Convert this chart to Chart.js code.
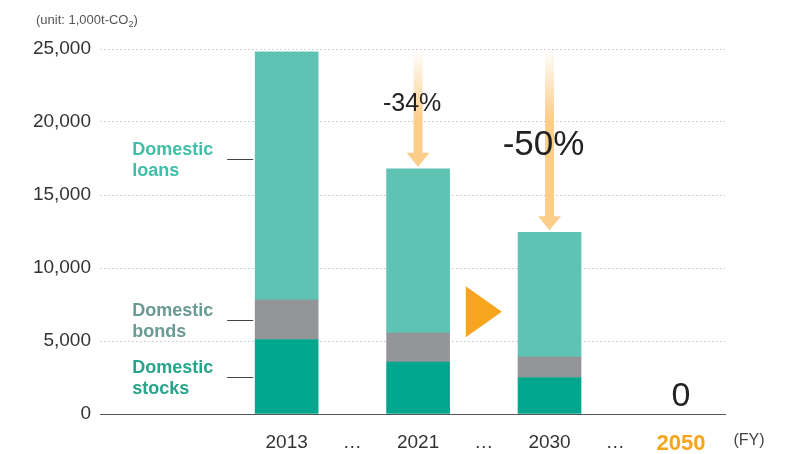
<!DOCTYPE html>
<html>
<head>
<meta charset="utf-8">
<script src="https://cdn.jsdelivr.net/npm/chart.js@4.4.1/dist/chart.umd.min.js"></script>
<style>
  html, body { margin: 0; padding: 0; background: #fff; }
</style>
</head>
<body>
<canvas id="emissionsChart" width="791" height="454"></canvas>
<script>
// x axis slots: bars sit on even slots, the "…" on odd ones
const xTickLabels = ['2013', '…', '2021', '…', '2030', '…', '2050'];
const barSlots = [0, 2, 4];

// financed emissions, 1,000t-CO2
const stocks = [5100, 3550, 2500];
const bonds = [2700, 2000, 1400];
const loans = [17000, 11250, 8550];

const seriesNames = ['Domestic\nstocks', 'Domestic\nbonds', 'Domestic\nloans'];
const seriesColours = ['#00a78e', '#939598', '#5ec3b3'];
const seriesTextColours = ['#26a58b', '#6a9a94', '#3fbfa7'];
const leaderValues = [2550, 6450, 17500];

// reduction arrows (bar index they point at)
const arrowBars = [1, 2];
const arrowLabels = ['-34%', '-50%'];
const arrowLabelValues = [21200, 18400];
const arrowLabelSizes = [25, 35];

const targetSlot = 6;
const targetLabel = '0';
const triangleSlot = 3;
const triangleValue = 7000;

const FONT = '"Liberation Sans", Arial, Helvetica, sans-serif';
const orange = '#f7a51d';

const toPoints = (values) => values.map((v, i) => ({ x: barSlots[i], y: v }));

const annotations = {
    id: 'annotations',
    afterDatasetsDraw(chart) {
        const { ctx, scales: { x, y } } = chart;
        ctx.save();

        // unit note top-left
        ctx.fillStyle = '#555';
        ctx.textBaseline = 'alphabetic';
        ctx.textAlign = 'left';
        ctx.font = `13px ${FONT}`;
        const unitText = '(unit: 1,000t-CO';
        ctx.fillText(unitText, 36, 24);
        let ux = 36 + ctx.measureText(unitText).width;
        ctx.font = `9px ${FONT}`;
        ctx.fillText('2', ux, 27);
        ux += ctx.measureText('2').width;
        ctx.font = `13px ${FONT}`;
        ctx.fillText(')', ux, 24);

        // series labels with leader lines, left of the first bar
        const barLeft = x.getPixelForValue(barSlots[0]) - 31.5;
        seriesNames.forEach((name, i) => {
            const ly = Math.round(y.getPixelForValue(leaderValues[i])) + 0.5;
            ctx.strokeStyle = '#444';
            ctx.lineWidth = 1;
            ctx.beginPath();
            ctx.moveTo(barLeft - 28, ly);
            ctx.lineTo(barLeft - 2, ly);
            ctx.stroke();

            ctx.fillStyle = seriesTextColours[i];
            ctx.font = `bold 18px ${FONT}`;
            const lines = name.split('\n');
            ctx.fillText(lines[0], barLeft - 123, ly - 5);
            ctx.fillText(lines[1], barLeft - 123, ly + 16);
        });

        // fading arrows down to the reduced bars
        arrowBars.forEach((b, i) => {
            const cx = x.getPixelForValue(barSlots[b]);
            const top = y.getPixelForValue(y.max);
            const total = stocks[b] + bonds[b] + loans[b];
            const tip = y.getPixelForValue(total) - 2;
            const grad = ctx.createLinearGradient(0, top, 0, top + 70);
            grad.addColorStop(0, 'rgba(253,205,138,0)');
            grad.addColorStop(1, 'rgba(253,205,138,1)');
            ctx.fillStyle = grad;
            ctx.beginPath();
            ctx.moveTo(cx - 4.5, top);
            ctx.lineTo(cx + 4.5, top);
            ctx.lineTo(cx + 4.5, tip - 14);
            ctx.lineTo(cx + 11.5, tip - 14);
            ctx.lineTo(cx, tip);
            ctx.lineTo(cx - 11.5, tip - 14);
            ctx.lineTo(cx - 4.5, tip - 14);
            ctx.closePath();
            ctx.fill();

            ctx.fillStyle = '#222';
            ctx.font = `${arrowLabelSizes[i]}px ${FONT}`;
            ctx.textAlign = 'center';
            ctx.textBaseline = 'middle';
            ctx.fillText(arrowLabels[i], cx - 6, y.getPixelForValue(arrowLabelValues[i]));
        });

        // orange "play" triangle between 2021 and 2030
        const tx = x.getPixelForValue(triangleSlot);
        const ty = y.getPixelForValue(triangleValue);
        ctx.fillStyle = orange;
        ctx.beginPath();
        ctx.moveTo(tx - 18, ty - 25.5);
        ctx.lineTo(tx + 18, ty);
        ctx.lineTo(tx - 18, ty + 25.5);
        ctx.closePath();
        ctx.fill();

        // 2050 target value
        ctx.fillStyle = '#222';
        ctx.font = `34px ${FONT}`;
        ctx.textAlign = 'center';
        ctx.textBaseline = 'alphabetic';
        ctx.fillText(targetLabel, x.getPixelForValue(targetSlot), y.getPixelForValue(0) - 8);

        // fiscal year unit, right of the axis
        ctx.fillStyle = '#444';
        ctx.font = `16px ${FONT}`;
        ctx.textBaseline = 'middle';
        ctx.fillText('(FY)', x.getPixelForValue(targetSlot) + 68, 441);

        ctx.restore();
    }
};

const chart = new Chart(document.getElementById('emissionsChart'), {
    type: 'bar',
    data: {
        datasets: [stocks, bonds, loans].map((values, i) => ({
            label: seriesNames[i].replace('\n', ' '),
            data: toPoints(values),
            backgroundColor: seriesColours[i],
            borderWidth: 0,
            barThickness: 63,
        }))
    },
    options: {
        responsive: false,
        animation: false,
        layout: { padding: { left: 0, right: 66, top: 49, bottom: 0 } },
        scales: {
            x: {
                type: 'linear',
                stacked: true,
                offset: false,
                min: -2.84,
                max: 6.67,
                afterBuildTicks: (scale) => {
                    scale.ticks = xTickLabels.map((_, i) => ({ value: i }));
                },
                afterFit: (scale) => { scale.height = 40; },
                grid: { display: false, drawTicks: false },
                border: { display: true, color: '#555', width: 1 },
                ticks: {
                    autoSkip: false,
                    maxRotation: 0,
                    padding: 17,
                    callback: (value) => xTickLabels[value],
                    color: (c) => xTickLabels[c.index] === '2050' ? orange : '#333',
                    font: (c) => xTickLabels[c.index] === '2050'
                        ? { family: FONT, size: 22, weight: 'bold' }
                        : { family: FONT, size: 19 },
                },
            },
            y: {
                stacked: true,
                min: 0,
                max: 25000,
                afterFit: (scale) => { scale.width = 100; },
                border: {
                    display: false,
                    dash: (c) => [1.5, 2.5],
                },
                grid: {
                    drawTicks: false,
                    color: (c) => (c.tick && c.tick.value === 0) ? 'rgba(0,0,0,0)' : '#c4c4c4',
                },
                ticks: {
                    stepSize: 5000,
                    padding: 9,
                    color: '#333',
                    font: { family: FONT, size: 19 },
                    callback: (v) => v.toLocaleString('en-US'),
                },
            },
        },
        plugins: {
            legend: { display: false },
            tooltip: { enabled: false },
        },
    },
    plugins: [annotations],
});
</script>
</body>
</html>
